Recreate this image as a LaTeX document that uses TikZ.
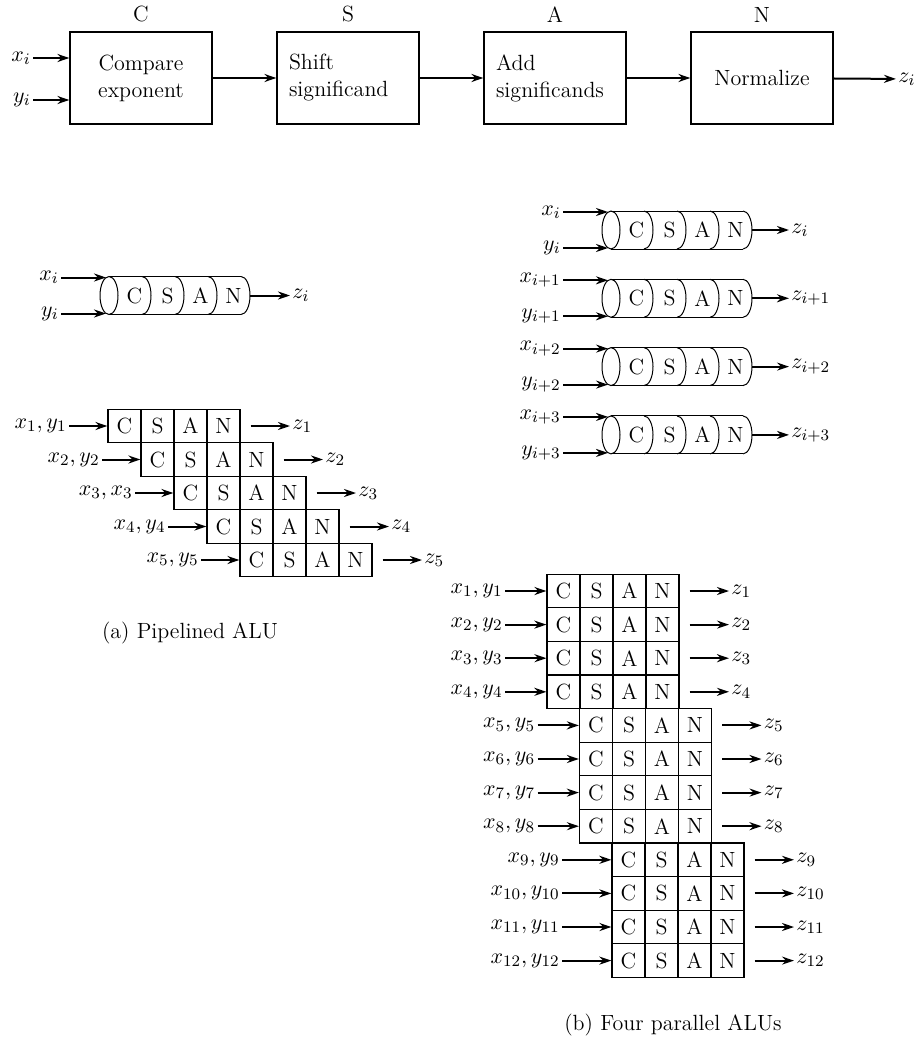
\documentclass[tikz,border=0pt]{standalone}
\usepackage{tikz}
\usetikzlibrary{arrows.meta, positioning}

\tikzset{
  stage/.style={draw, line width=0.6pt, minimum width=71pt, minimum height=46pt,
                inner xsep=6pt, text width=59pt},
  cell/.style={draw, line width=0.6pt, minimum width=16.5pt, minimum height=16.8pt, inner sep=0pt},
  flow/.style={line width=1pt, -{Stealth[length=6pt, width=4pt]}},
  cyl/.style={line width=0.5pt},
  lbl/.style={inner sep=1pt},
}
% one ALU drawn as a cylinder: #1 name, #2 left edge, #3 middle
\newcommand{\alucyl}[3]{
  \draw[cyl] ({#2+9},#3) ellipse[x radius=4.5pt, y radius=9.5pt];
  \draw[cyl] ({#2+9},{#3-19}) -- ({#2+141},{#3-19})
             ({#2+9},{#3+19}) -- ({#2+141},{#3+19});
  \foreach \k in {1,...,4}
    \draw[cyl] ({#2+9+33*\k},{#3-19}) arc[start angle=90, end angle=-90, x radius=4.5pt, y radius=9.5pt];
  \foreach \s [count=\k] in {C,S,A,N}
    \node (#1\s) at ({#2+1.5+33*\k},#3) {\s};
  \coordinate (#1-inx) at ({#2+6},{#3-18});
  \coordinate (#1-iny) at ({#2+6},{#3+18});
  \coordinate (#1-out) at ({#2+150},#3);
}

\begin{document}
\begin{tikzpicture}[x=0.5pt, y=-0.5pt, font=\fontsize{11}{13.5}\selectfont]
\useasboundingbox (0,0) rectangle (916,1044);

% the four stages
\node[stage, align=center] (cmp) at (141,78) {Compare\\exponent};
\node[stage, align=left] (shf) at (348,78) {Shift\\significand};
\node[stage, align=left] (add) at (555,78) {Add\\significands};
\node[stage, align=center] (nrm) at (762,78) {Normalize};
\node[above=1pt of cmp] (tC) {C};
\node[above=1pt of shf] (tS) {S};
\node[above=1pt of add] (tA) {A};
\node[above=1pt of nrm] (tN) {N};

\node[lbl, anchor=east] (xi) at (33,58) {$x_i$};
\node[lbl, anchor=east] (yi) at (33,100) {$y_i$};
\node[lbl, anchor=west] (zi) at (896,79) {$z_i$};
\draw[flow] (xi) -- (xi -| cmp.west);
\draw[flow] (yi) -- (yi -| cmp.west);
\draw[flow] (cmp) -- (shf);
\draw[flow] (shf) -- (add);
\draw[flow] (add) -- (nrm);
\draw[flow] (nrm) -- (zi);

% single ALU
\alucyl{u}{100}{295.5}
\node[lbl, anchor=east] (ux) at (61,277.5) {$x_i$};
\node[lbl, anchor=east] (uy) at (61,313.5) {$y_i$};
\node[lbl, anchor=west] (uz) at (290,295.5) {$z_i$};
\draw[flow] (ux) -- (u-inx);
\draw[flow] (uy) -- (u-iny);
\draw[flow] (u-out) -- (uz);

% four ALUs side by side
\foreach \j/\sub in {0/i, 1/{i+1}, 2/{i+2}, 3/{i+3}} {
  \pgfmathsetmacro\cy{230+68.3*\j}
  \alucyl{q\j}{602}{\cy}
  \node[lbl, anchor=east] (qx\j) at (563,{\cy-18}) {$x_{\sub}$};
  \node[lbl, anchor=east] (qy\j) at (563,{\cy+18}) {$y_{\sub}$};
  \node[lbl, anchor=west] (qz\j) at (789,\cy) {$z_{\sub}$};
  \draw[flow] (qx\j) -- (q\j-inx);
  \draw[flow] (qy\j) -- (q\j-iny);
  \draw[flow] (q\j-out) -- (qz\j);
}

% (a) pipelined
\foreach \r/\inl in {1/{x_1, y_1}, 2/{x_2, y_2}, 3/{x_3, x_3}, 4/{x_4, y_4}, 5/{x_5, y_5}} {
  \pgfmathsetmacro\py{426+33.5*(\r-1)}
  \pgfmathsetmacro\px{108+33*(\r-1)}
  \foreach \s [count=\k] in {C,S,A,N}
    \node[cell] (p\r\s) at ({\px+33*\k-16.5},\py) {\s};
  \node[lbl, anchor=east] (pin\r) at ({\px-39},\py) {$\inl$};
  \node[lbl, anchor=west] (pout\r) at ({\px+182},\py) {$z_{\r}$};
  \draw[flow] (pin\r) -- (p\r C.west);
  \draw[flow] ([xshift=5pt]p\r N.east) -- (pout\r);
}
\node (capa) at (190,633) {(a) Pipelined ALU};

% (b) four parallel
\foreach \n in {1,...,12} {
  \pgfmathtruncatemacro\b{(\n-1)/4}
  \pgfmathsetmacro\py{591+33.6*(\n-1)}
  \pgfmathsetmacro\px{547+32.5*\b}
  \pgfmathsetmacro\len{\b<2 ? 42 : 50}
  \foreach \s [count=\k] in {C,S,A,N}
    \node[cell] (b\n\s) at ({\px+33*\k-16.5},\py) {\s};
  \node[lbl, anchor=east] (bin\n) at ({\px-\len},\py) {$x_{\n}, y_{\n}$};
  \node[lbl, anchor=west] (bout\n) at ({\px+182},\py) {$z_{\n}$};
  \draw[flow] (bin\n) -- (b\n C.west);
  \draw[flow] ([xshift=5pt]b\n N.east) -- (bout\n);
}
\node (capb) at (673,1025) {(b) Four parallel ALUs};
\end{tikzpicture}
\end{document}
